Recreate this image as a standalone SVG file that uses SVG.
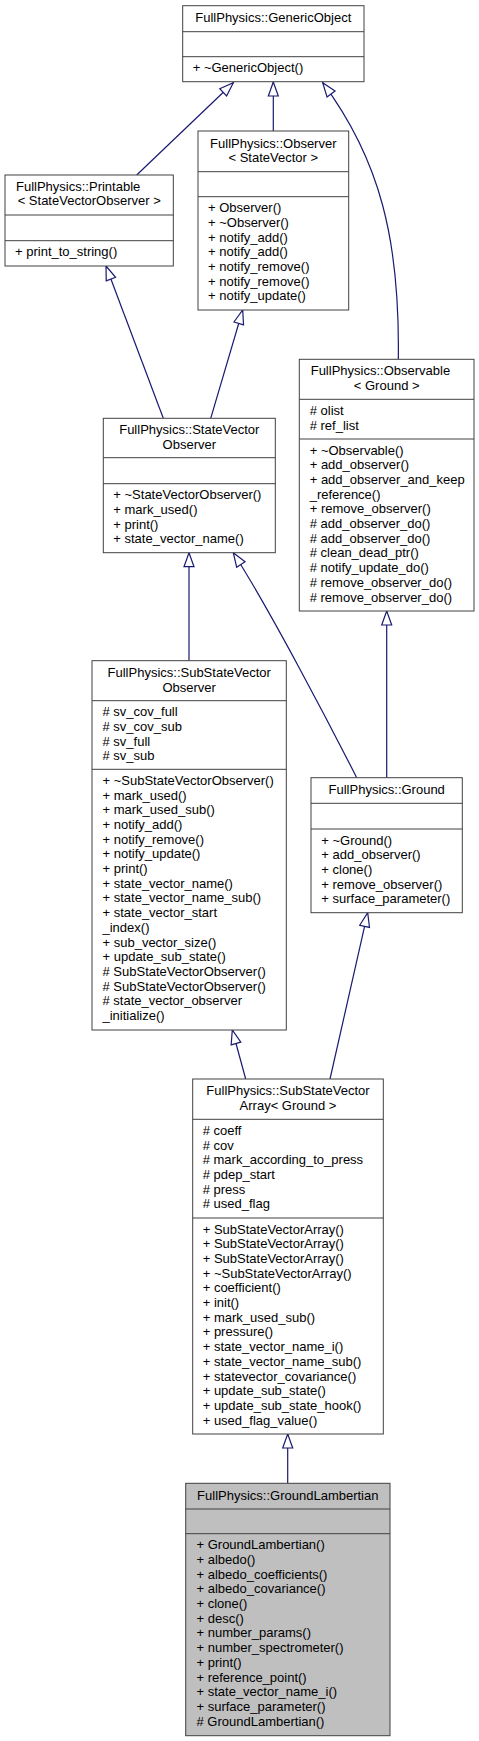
<svg xmlns="http://www.w3.org/2000/svg" width="479" height="1741" viewBox="0 0 479 1741">
<style>
.box{fill:#ffffff;stroke:#404040;stroke-width:1}
.hl{fill:#bfbfbf}
.div{stroke:#404040;stroke-width:1}
text{font-family:"Liberation Sans",Arial,Helvetica,sans-serif;font-size:13px;fill:#000}
.c{text-anchor:middle}
.edge{fill:none;stroke:#191970;stroke-width:1.2;marker-end:url(#tri)}
</style>
<defs>
<marker id="tri" markerUnits="userSpaceOnUse" markerWidth="16" markerHeight="12" refX="14" refY="5" orient="auto" overflow="visible">
<path d="M0,0 L14,5 L0,10 Z" fill="#ffffff" stroke="#191970" stroke-width="1.2"/>
</marker>
</defs>
<rect width="479" height="1741" fill="#ffffff"/>
<g id="connectors">
<path class="edge" d="M136.7,175 L233.3,82.7"/>
<path class="edge" d="M273.3,131 L273.3,82"/>
<path class="edge" d="M398.3,359.3 C400,240 380,160 322.7,82.7"/>
<path class="edge" d="M163.3,418.3 L106,266"/>
<path class="edge" d="M210.7,418.3 L242.7,310"/>
<path class="edge" d="M189,660.7 L189,552.7"/>
<path class="edge" d="M356.7,777.7 C330,725 270,610 233.3,552.7"/>
<path class="edge" d="M386.7,777.7 L386.7,611"/>
<path class="edge" d="M245.7,1079 L232.3,1030"/>
<path class="edge" d="M330,1079 L367.7,912.7"/>
<path class="edge" d="M287.7,1483.3 L287.7,1434"/>
</g>
<g id="GenericObject">
<rect class="box" x="182.7" y="5.7" width="181.3" height="76"/>
<line class="div" x1="182.7" y1="31.7" x2="364" y2="31.7"/>
<line class="div" x1="182.7" y1="56.7" x2="364" y2="56.7"/>
<text class="c" x="273.3" y="22">FullPhysics::GenericObject</text>
<text x="192.7" y="72.2">+ ~GenericObject()</text>
</g>
<g id="Printable">
<rect class="box" x="5" y="175" width="168.3" height="91"/>
<line class="div" x1="5" y1="215" x2="173.3" y2="215"/>
<line class="div" x1="5" y1="240.7" x2="173.3" y2="240.7"/>
<text x="16" y="190.7">FullPhysics::Printable</text>
<text class="c" x="89.2" y="205.4">&lt; StateVectorObserver &gt;</text>
<text x="15" y="256.2">+ print_to_string()</text>
</g>
<g id="Observer">
<rect class="box" x="198" y="131" width="150.7" height="179"/>
<line class="div" x1="198" y1="171.7" x2="348.7" y2="171.7"/>
<line class="div" x1="198" y1="196.7" x2="348.7" y2="196.7"/>
<text class="c" x="273.3" y="147.5">FullPhysics::Observer<tspan x="273.3" dy="14.7">&lt; StateVector &gt;</tspan></text>
<text x="208" y="212.2">+ Observer()<tspan x="208" dy="14.7">+ ~Observer()</tspan><tspan x="208" dy="14.7">+ notify_add()</tspan><tspan x="208" dy="14.7">+ notify_add()</tspan><tspan x="208" dy="14.7">+ notify_remove()</tspan><tspan x="208" dy="14.7">+ notify_remove()</tspan><tspan x="208" dy="14.7">+ notify_update()</tspan></text>
</g>
<g id="StateVectorObserver">
<rect class="box" x="103.3" y="418.3" width="172" height="134.4"/>
<line class="div" x1="103.3" y1="457.7" x2="275.3" y2="457.7"/>
<line class="div" x1="103.3" y1="483.7" x2="275.3" y2="483.7"/>
<text class="c" x="189.3" y="434.3">FullPhysics::StateVector<tspan x="189.3" dy="14.7">Observer</tspan></text>
<text x="113.3" y="499.2">+ ~StateVectorObserver()<tspan x="113.3" dy="14.7">+ mark_used()</tspan><tspan x="113.3" dy="14.7">+ print()</tspan><tspan x="113.3" dy="14.7">+ state_vector_name()</tspan></text>
</g>
<g id="Observable">
<rect class="box" x="299.3" y="359.3" width="174.7" height="251.7"/>
<line class="div" x1="299.3" y1="399.3" x2="474" y2="399.3"/>
<line class="div" x1="299.3" y1="439" x2="474" y2="439"/>
<text x="310.7" y="375">FullPhysics::Observable</text>
<text class="c" x="386.7" y="389.7">&lt; Ground &gt;</text>
<text x="309.7" y="414.8"># olist<tspan x="309.7" dy="14.7"># ref_list</tspan></text>
<text x="309.7" y="454.5">+ ~Observable()<tspan x="309.7" dy="14.7">+ add_observer()</tspan><tspan x="309.7" dy="14.7">+ add_observer_and_keep</tspan><tspan x="309.7" dy="14.7">_reference()</tspan><tspan x="309.7" dy="14.7">+ remove_observer()</tspan><tspan x="309.7" dy="14.7"># add_observer_do()</tspan><tspan x="309.7" dy="14.7"># add_observer_do()</tspan><tspan x="309.7" dy="14.7"># clean_dead_ptr()</tspan><tspan x="309.7" dy="14.7"># notify_update_do()</tspan><tspan x="309.7" dy="14.7"># remove_observer_do()</tspan><tspan x="309.7" dy="14.7"># remove_observer_do()</tspan></text>
</g>
<g id="SubStateVectorObserver">
<rect class="box" x="92" y="660.7" width="194.3" height="369.3"/>
<line class="div" x1="92" y1="700.7" x2="286.3" y2="700.7"/>
<line class="div" x1="92" y1="769.3" x2="286.3" y2="769.3"/>
<text class="c" x="189.2" y="677">FullPhysics::SubStateVector<tspan x="189.2" dy="14.7">Observer</tspan></text>
<text x="102.5" y="716.2"># sv_cov_full<tspan x="102.5" dy="14.7"># sv_cov_sub</tspan><tspan x="102.5" dy="14.7"># sv_full</tspan><tspan x="102.5" dy="14.7"># sv_sub</tspan></text>
<text x="102.5" y="784.8">+ ~SubStateVectorObserver()<tspan x="102.5" dy="14.7">+ mark_used()</tspan><tspan x="102.5" dy="14.7">+ mark_used_sub()</tspan><tspan x="102.5" dy="14.7">+ notify_add()</tspan><tspan x="102.5" dy="14.7">+ notify_remove()</tspan><tspan x="102.5" dy="14.7">+ notify_update()</tspan><tspan x="102.5" dy="14.7">+ print()</tspan><tspan x="102.5" dy="14.7">+ state_vector_name()</tspan><tspan x="102.5" dy="14.7">+ state_vector_name_sub()</tspan><tspan x="102.5" dy="14.7">+ state_vector_start</tspan><tspan x="102.5" dy="14.7">_index()</tspan><tspan x="102.5" dy="14.7">+ sub_vector_size()</tspan><tspan x="102.5" dy="14.7">+ update_sub_state()</tspan><tspan x="102.5" dy="14.7"># SubStateVectorObserver()</tspan><tspan x="102.5" dy="14.7"># SubStateVectorObserver()</tspan><tspan x="102.5" dy="14.7"># state_vector_observer</tspan><tspan x="102.5" dy="14.7">_initialize()</tspan></text>
</g>
<g id="Ground">
<rect class="box" x="311" y="777.7" width="151.3" height="135"/>
<line class="div" x1="311" y1="803.3" x2="462.3" y2="803.3"/>
<line class="div" x1="311" y1="829" x2="462.3" y2="829"/>
<text class="c" x="386.7" y="794">FullPhysics::Ground</text>
<text x="321.3" y="844.5">+ ~Ground()<tspan x="321.3" dy="14.7">+ add_observer()</tspan><tspan x="321.3" dy="14.7">+ clone()</tspan><tspan x="321.3" dy="14.7">+ remove_observer()</tspan><tspan x="321.3" dy="14.7">+ surface_parameter()</tspan></text>
</g>
<g id="SubStateVectorArray">
<rect class="box" x="192.7" y="1079" width="190.6" height="355"/>
<line class="div" x1="192.7" y1="1119.3" x2="383.3" y2="1119.3"/>
<line class="div" x1="192.7" y1="1218" x2="383.3" y2="1218"/>
<text class="c" x="288" y="1095.3">FullPhysics::SubStateVector<tspan x="288" dy="14.7">Array&lt; Ground &gt;</tspan></text>
<text x="202.7" y="1134.8"># coeff<tspan x="202.7" dy="14.7"># cov</tspan><tspan x="202.7" dy="14.7"># mark_according_to_press</tspan><tspan x="202.7" dy="14.7"># pdep_start</tspan><tspan x="202.7" dy="14.7"># press</tspan><tspan x="202.7" dy="14.7"># used_flag</tspan></text>
<text x="202.7" y="1233.5">+ SubStateVectorArray()<tspan x="202.7" dy="14.7">+ SubStateVectorArray()</tspan><tspan x="202.7" dy="14.7">+ SubStateVectorArray()</tspan><tspan x="202.7" dy="14.7">+ ~SubStateVectorArray()</tspan><tspan x="202.7" dy="14.7">+ coefficient()</tspan><tspan x="202.7" dy="14.7">+ init()</tspan><tspan x="202.7" dy="14.7">+ mark_used_sub()</tspan><tspan x="202.7" dy="14.7">+ pressure()</tspan><tspan x="202.7" dy="14.7">+ state_vector_name_i()</tspan><tspan x="202.7" dy="14.7">+ state_vector_name_sub()</tspan><tspan x="202.7" dy="14.7">+ statevector_covariance()</tspan><tspan x="202.7" dy="14.7">+ update_sub_state()</tspan><tspan x="202.7" dy="14.7">+ update_sub_state_hook()</tspan><tspan x="202.7" dy="14.7">+ used_flag_value()</tspan></text>
</g>
<g id="GroundLambertian">
<rect class="box hl" x="185.7" y="1483.3" width="204.3" height="252.4"/>
<line class="div" x1="185.7" y1="1509" x2="390" y2="1509"/>
<line class="div" x1="185.7" y1="1533.7" x2="390" y2="1533.7"/>
<text class="c" x="287.8" y="1499.6">FullPhysics::GroundLambertian</text>
<text x="196.5" y="1549.2">+ GroundLambertian()<tspan x="196.5" dy="14.7">+ albedo()</tspan><tspan x="196.5" dy="14.7">+ albedo_coefficients()</tspan><tspan x="196.5" dy="14.7">+ albedo_covariance()</tspan><tspan x="196.5" dy="14.7">+ clone()</tspan><tspan x="196.5" dy="14.7">+ desc()</tspan><tspan x="196.5" dy="14.7">+ number_params()</tspan><tspan x="196.5" dy="14.7">+ number_spectrometer()</tspan><tspan x="196.5" dy="14.7">+ print()</tspan><tspan x="196.5" dy="14.7">+ reference_point()</tspan><tspan x="196.5" dy="14.7">+ state_vector_name_i()</tspan><tspan x="196.5" dy="14.7">+ surface_parameter()</tspan><tspan x="196.5" dy="14.7"># GroundLambertian()</tspan></text>
</g>
</svg>
